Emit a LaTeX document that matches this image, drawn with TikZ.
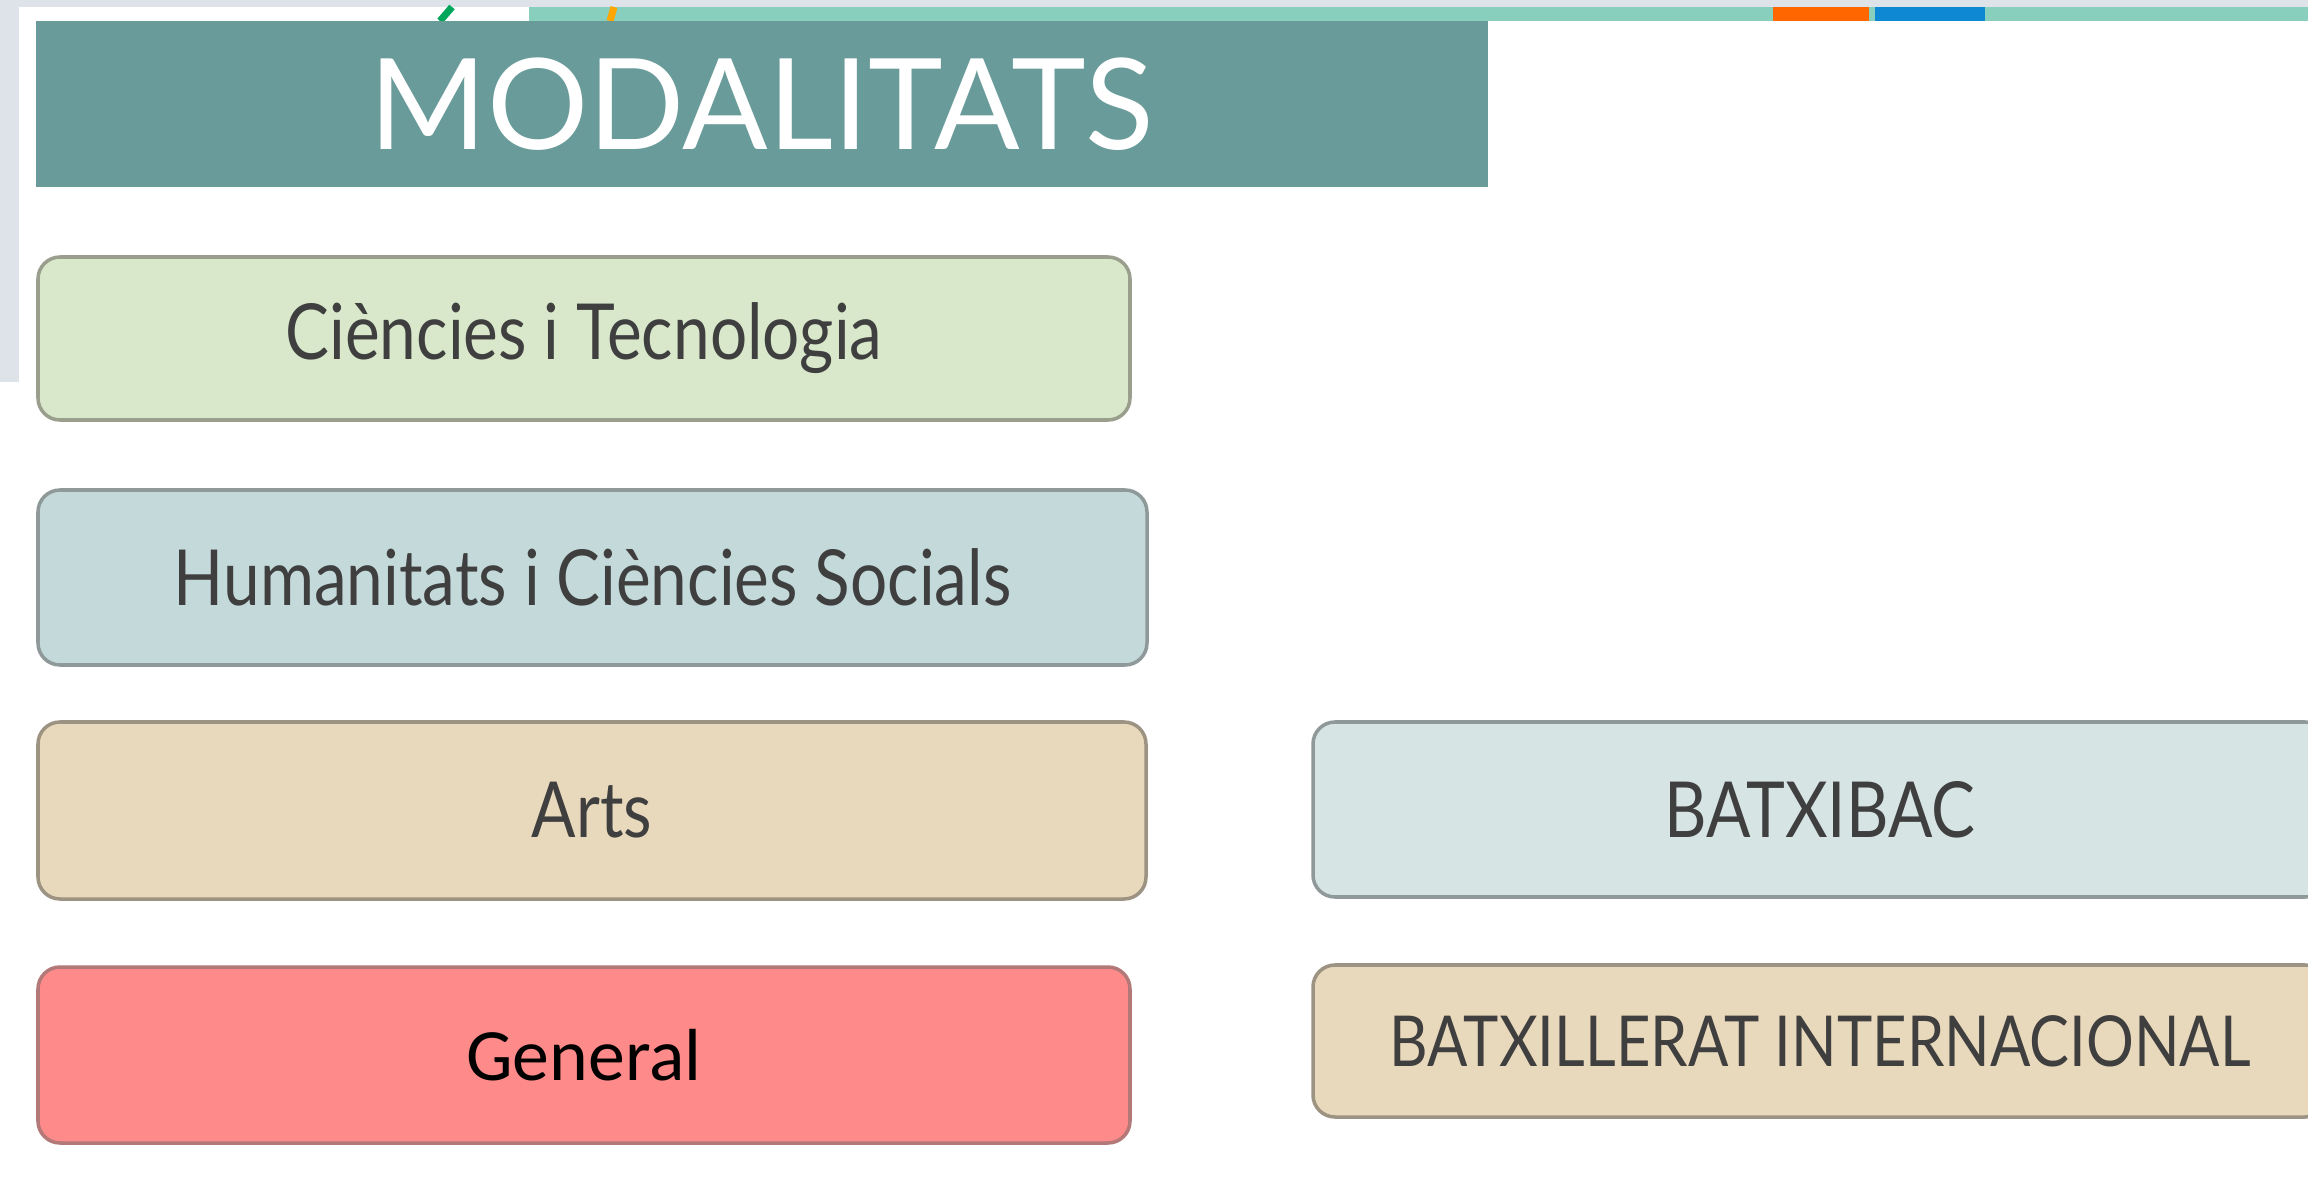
\documentclass[tikz,border=0pt]{standalone}
\usepackage{fontspec}
\setmainfont{Lato}
\newfontfamily\boxfont{Lato}[FakeStretch=0.85]
\newfontfamily\calfont{Carlito}
\usetikzlibrary{positioning}

\definecolor{pagegray}{HTML}{DDE3E9}
\definecolor{topteal}{HTML}{88CFBD}
\definecolor{bannerteal}{HTML}{689B99}
\definecolor{textgray}{HTML}{3F3F3F}
\definecolor{greenfill}{HTML}{D9E8CB}
\definecolor{greenline}{HTML}{999F8C}
\definecolor{bluefill}{HTML}{C4D9D9}
\definecolor{blueline}{HTML}{8F9999}
\definecolor{palebluefill}{HTML}{D7E4E4}
\definecolor{beigefill}{HTML}{E9D9BC}
\definecolor{beigeline}{HTML}{9D9383}
\definecolor{redfill}{HTML}{FF8A8A}
\definecolor{redline}{HTML}{B37878}

\begin{document}
\begin{tikzpicture}[
		modbox/.style = {draw, line width=1pt, rounded corners=0.22cm, inner sep=0pt,
			text=textgray, font=\boxfont\fontsize{22}{26}\selectfont},
		banner/.style = {fill=bannerteal, inner sep=0pt, text=white,
			font=\fontsize{36}{42}\selectfont}
	]
	\useasboundingbox (0,0) rectangle (23.08,11.85);
	\clip (0,0) rectangle (23.08,11.85);
	% screen bits behind the slide
		\fill[white] (0,0) rectangle (23.08,11.85);
		\fill[pagegray] (0,11.78) rectangle (23.08,11.85);
		\fill[pagegray] (0,8.03) rectangle (0.19,11.85);
		\fill[topteal] (5.29,11.64) rectangle (23.08,11.78);
		\fill[orange!80!red] (17.73,11.64) rectangle (18.69,11.78);
		\fill[cyan!70!blue] (18.75,11.64) rectangle (19.85,11.78);
		\draw[teal!70!green, line width=2pt] (4.40,11.64) -- (4.52,11.78);
		\draw[orange!70!yellow, line width=2pt] (6.10,11.64) -- (6.14,11.78);
	% title
		\node[banner, minimum width=14.52cm, minimum height=1.66cm] (title) at (7.62,10.81) {MODALITATS};
	% modalities
		\node[modbox, fill=greenfill, draw=greenline, minimum width=10.92cm, minimum height=1.63cm] (cit) at (5.84,8.465) {Ciències i Tecnologia};
		\node[modbox, fill=bluefill, draw=blueline, minimum width=11.09cm, minimum height=1.75cm] (hcs) at (5.925,6.075) {Humanitats i Ciències Socials};
		\node[modbox, fill=beigefill, draw=beigeline, minimum width=11.08cm, minimum height=1.77cm] (arts) at (5.92,3.745) {Arts};
		\node[modbox, fill=redfill, draw=redline, minimum width=10.92cm, minimum height=1.76cm, text=black,
			font=\calfont\fontsize{21}{25}\selectfont] (gen) at (5.84,1.30) {General};
	% other programmes
		\node[modbox, fill=palebluefill, draw=blueline, minimum width=10.14cm, minimum height=1.75cm] (bbac) at (18.2,3.755) {BATXIBAC};
		\node[modbox, fill=beigefill, draw=beigeline, minimum width=10.14cm, minimum height=1.52cm,
			font=\boxfont\fontsize{20}{24}\selectfont] (bi) at (18.2,1.44) {BATXILLERAT INTERNACIONAL};
	\end{tikzpicture}
\end{document}
